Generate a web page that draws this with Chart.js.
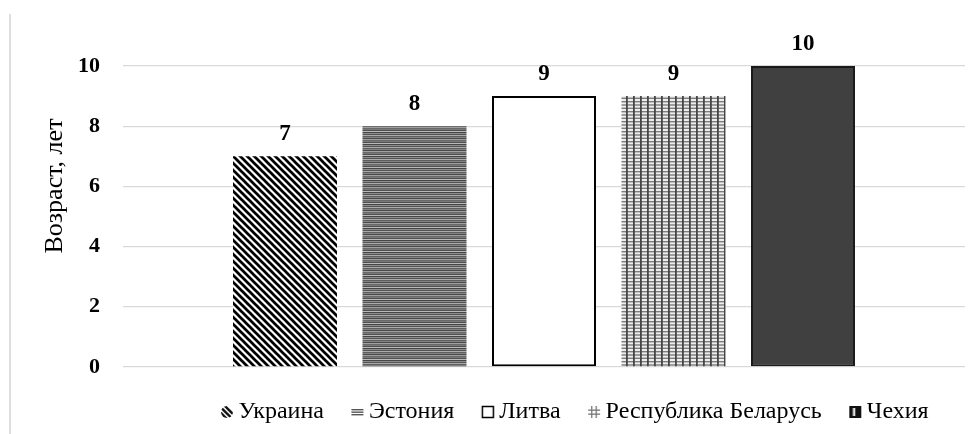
<!DOCTYPE html>
<html>
<head>
<meta charset="utf-8">
<script src="https://cdn.jsdelivr.net/npm/chart.js@4.4.1/dist/chart.umd.min.js"></script>
<style>
  html, body { margin: 0; padding: 0; background: #ffffff; }
  #wrap { width: 976px; height: 434px; }
</style>
</head>
<body>
<div id="wrap"><canvas id="c" width="976" height="434"></canvas></div>
<script>
// ---- data ----
const categories = [''];
const countries = ['Украина', 'Эстония', 'Литва', 'Республика Беларусь', 'Чехия'];
const values = [7, 8, 9, 9, 10];
const yTicks = [0, 2, 4, 6, 8, 10];
const yTitle = 'Возраст, лет';

const FONT = "'Liberation Serif', 'Times New Roman', serif";

function mk(w, h, draw) {
  const c = document.createElement('canvas');
  c.width = w; c.height = h;
  draw(c.getContext('2d'), w, h);
  return c;
}
const pctx = document.getElementById('c').getContext('2d');

// Ukraine: diagonal stripes
const ukrTile = mk(7, 7, (g, w, h) => {
  g.fillStyle = '#fff'; g.fillRect(0, 0, w, h);
  g.strokeStyle = '#000'; g.lineWidth = 2.7;
  for (const k of [-7, 0, 7]) { g.beginPath(); g.moveTo(k - 1, -1); g.lineTo(k + w + 1, h + 1); g.stroke(); }
});
// Estonia: dense horizontal grey lines
const estRows = [70, 140, 85, 170, 95, 130, 75, 160, 105, 120, 80, 185];
const estTile = mk(4, estRows.length, (g, w, h) => {
  estRows.forEach((v, i) => { g.fillStyle = `rgb(${v},${v},${v})`; g.fillRect(0, i, w, 1); });
});
// Belarus: grid
const belTile = mk(7, 10, (g, w, h) => {
  g.fillStyle = '#eeeeee'; g.fillRect(0, 0, w, h);
  g.fillStyle = '#7c7c7c'; g.fillRect(0, 1, w, 1.4); g.fillRect(0, 4.3, w, 1.4); g.fillRect(0, 7.6, w, 1.4);
  g.fillStyle = '#454545'; g.fillRect(3, 0, 1.8, h);
});
const fills = [
  pctx.createPattern(ukrTile, 'repeat'),
  pctx.createPattern(estTile, 'repeat'),
  '#ffffff',
  pctx.createPattern(belTile, 'repeat'),
  '#404040'
];
const borders = ['#000', '#000', '#000', '#000', '#1a1a1a'];
const borderW = [0, 0, 2, 0, 2];

// legend icons: 20px canvas, glyph in the right 14px
const OFF = 6;
const icons = [
  mk(20, 14, (g) => {
    g.save(); g.translate(OFF, 0); g.beginPath(); g.arc(7, 7, 6, 0, Math.PI * 2); g.clip();
    g.strokeStyle = '#111'; g.lineWidth = 2.4;
    for (const k of [-7, -1.5, 4]) { g.beginPath(); g.moveTo(k, 0); g.lineTo(k + 14, 14); g.stroke(); }
    g.restore();
  }),
  mk(20, 14, (g) => { g.translate(OFF, 0); g.fillStyle = '#555'; [4, 6.5, 9].forEach(y => g.fillRect(1, y, 12, 1.4)); }),
  mk(20, 14, (g) => { g.translate(OFF, 0); g.strokeStyle = '#000'; g.lineWidth = 1.5; g.strokeRect(1.5, 1.5, 11, 11); }),
  mk(20, 14, (g) => {
    g.translate(OFF, 0);
    g.fillStyle = '#777';
    g.fillRect(4, 1, 1.3, 12); g.fillRect(8.5, 1, 1.3, 12);
    g.fillRect(1, 4.5, 12, 1.3); g.fillRect(1, 8.5, 12, 1.3);
  }),
  mk(20, 14, (g) => { g.translate(OFF, 0); g.fillStyle = '#111'; g.fillRect(1, 1, 12, 12); g.fillStyle = '#e0e0e0'; g.fillRect(4.5, 3, 2.5, 8); })
];

const deco = {
  id: 'deco',
  afterLayout(chart) {
    const lg = chart.legend;
    if (lg) { const dx = 575 - (lg.left + lg.right) / 2; lg.left += dx; lg.right += dx; }
  },
  beforeDraw(chart) {
    const g = chart.ctx;
    g.save();
    g.fillStyle = '#fff'; g.fillRect(0, 0, chart.width, chart.height);
    g.strokeStyle = '#d4d4d4'; g.lineWidth = 1.5;
    g.beginPath(); g.moveTo(10, 14); g.lineTo(10, chart.height); g.stroke();
    g.restore();
  },
  afterDraw(chart) {
    const g = chart.ctx;
    g.save();
    g.translate(55, 186);
    g.rotate(-Math.PI / 2);
    g.fillStyle = '#000';
    g.font = `26px ${FONT}`;
    g.textAlign = 'center'; g.textBaseline = 'middle';
    g.fillText(yTitle, 0, 0);
    g.restore();
  },
  afterDatasetsDraw(chart) {
    const g = chart.ctx;
    g.save();
    g.fillStyle = '#000';
    g.font = `bold 23px ${FONT}`;
    g.textAlign = 'center'; g.textBaseline = 'alphabetic';
    chart.data.datasets.forEach((ds, i) => {
      const el = chart.getDatasetMeta(i).data[0];
      g.fillText(String(ds.data[0]), el.x, el.y - 16);
    });
    g.restore();
  }
};

new Chart(document.getElementById('c'), {
  type: 'bar',
  data: {
    labels: categories,
    datasets: countries.map((name, i) => ({
      label: name,
      data: [values[i]],
      backgroundColor: fills[i],
      borderColor: borders[i],
      borderWidth: borderW[i],
      borderSkipped: false
    }))
  },
  options: {
    responsive: false,
    animation: false,
    devicePixelRatio: 1,
    layout: { padding: { top: 66, left: 0, right: 11, bottom: 0 } },
    datasets: { bar: { categoryPercentage: 0.769, barPercentage: 0.803 } },
    scales: {
      x: {
        display: true,
        grid: { display: false },
        border: { display: false },
        ticks: { display: false },
        afterFit: (s) => { s.height = 5; }
      },
      y: {
        min: 0, max: 10,
        afterBuildTicks: (s) => { s.ticks = yTicks.map(v => ({ value: v })); },
        ticks: { padding: 23, color: '#000', font: { family: FONT, size: 22, weight: 'bold' } },
        grid: { color: '#d9d9d9', lineWidth: 1.3, drawTicks: false },
        border: { display: false },
        afterFit: (s) => { s.width = 123; }
      }
    },
    plugins: {
      tooltip: { enabled: false },
      legend: {
        position: 'bottom',
        maxHeight: 63,
        labels: {
          usePointStyle: true,
          boxWidth: 5,
          padding: 28,
          color: '#000',
          font: { family: FONT, size: 24 },
          generateLabels: (chart) => chart.data.datasets.map((ds, i) => ({
            text: ds.label,
            pointStyle: icons[i],
            fillStyle: '#000',
            strokeStyle: '#000',
            lineWidth: 0,
            hidden: false,
            datasetIndex: i,
            fontColor: '#000'
          }))
        }
      }
    }
  },
  plugins: [deco]
});
</script>
</body>
</html>
